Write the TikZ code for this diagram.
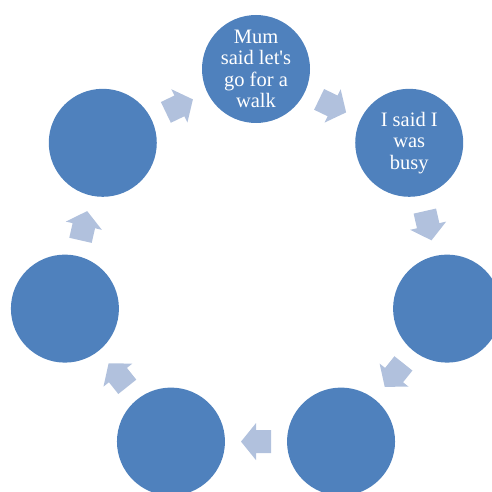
\documentclass[tikz,border=0pt]{standalone}
\usepackage{fontspec}
\setmainfont{Liberation Serif}
\usetikzlibrary{calc}
\definecolor{circblue}{RGB}{79,129,189}
\definecolor{arrblue}{RGB}{177,193,221}
\tikzset{
  cyc/.style={circle, fill=circblue, draw=none, minimum size=108pt, inner sep=0pt,
    text=white, align=center, font=\fontsize{20.5}{21.5}\selectfont},
  blockarr/.style={fill=arrblue, draw=none}
}
\begin{document}
\begin{tikzpicture}[x=1pt,y=1pt]
\useasboundingbox (0,0) rectangle (492,491);
\clip (0,0) rectangle (492,491);
\coordinate (ctr) at (256,226);
\foreach \k/\txt in {1/{Mum\\said let\textquotesingle s\\go for a\\walk}, 2/{I said I\\was\\busy}, 3/{}, 4/{}, 5/{}, 6/{}, 7/{}} {
  \node[cyc] (c\k) at ($(ctr)+({90-(\k-1)*360/7}:196)$) {\txt};
}
\foreach \k in {1,...,7} {
  \pgfmathsetmacro{\ang}{90-(\k-0.5)*360/7}
  \coordinate (a\k) at ($(ctr)+(\ang:176.6)$);
  \fill[blockarr, shift={(a\k)}, rotate=\ang-90]
    (-15,-11.5) -- (0,-11.5) -- (0,-18.5) -- (15,0) -- (0,18.5) -- (0,11.5) -- (-15,11.5) -- cycle;
}
\end{tikzpicture}
\end{document}
